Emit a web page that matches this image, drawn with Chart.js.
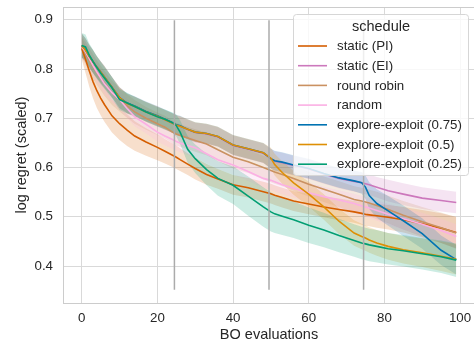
<!DOCTYPE html>
<html>
<head>
<meta charset="utf-8">
<script src="https://cdn.jsdelivr.net/npm/chart.js@4.4.1/dist/chart.umd.min.js"></script>
<style>
  html, body { margin: 0; padding: 0; overflow: hidden; background: #fff; }
  canvas { display: block; }
</style>
</head>
<body>
<canvas id="regretChart" width="476" height="347"></canvas>
<script>
const evals = [0,1,2,3,4,5,6,8,10,12,14,17,20,22,24,25,26,28,30,33,36,40,44,48,50,51,53,56,60,64,68,72,74,75,76,78,81,85,90,95,99];

const schedules = ['static (PI)', 'static (EI)', 'round robin', 'random',
  'explore-exploit (0.75)', 'explore-exploit (0.5)', 'explore-exploit (0.25)'];
const colors = ['#d55e00', '#cc78bc', '#ca9161', '#fbafe4', '#0173b2', '#de8f05', '#029e73'];

// mean log regret per schedule
const staticPI = [0.842,0.820,0.796,0.774,0.756,0.741,0.728,0.705,0.689,0.676,0.664,0.652,0.641,0.633,0.625,0.621,0.616,0.607,0.598,0.586,0.577,0.565,0.559,0.551,0.547,0.544,0.539,0.532,0.526,0.520,0.515,0.510,0.507,0.505,0.504,0.502,0.499,0.494,0.486,0.477,0.468];
const staticEI = [0.848,0.838,0.826,0.815,0.804,0.794,0.784,0.763,0.742,0.730,0.724,0.713,0.704,0.697,0.690,0.686,0.684,0.677,0.671,0.668,0.662,0.645,0.637,0.629,0.618,0.613,0.610,0.604,0.597,0.587,0.578,0.572,0.569,0.567,0.565,0.560,0.553,0.546,0.538,0.533,0.529];
const roundRobin = [0.845,0.832,0.818,0.805,0.793,0.782,0.771,0.752,0.738,0.725,0.713,0.700,0.689,0.682,0.672,0.668,0.665,0.660,0.655,0.648,0.636,0.621,0.612,0.600,0.594,0.591,0.586,0.578,0.566,0.556,0.546,0.535,0.532,0.530,0.528,0.523,0.515,0.503,0.490,0.478,0.467];
const randomSched = [0.846,0.835,0.821,0.807,0.794,0.782,0.770,0.752,0.738,0.720,0.703,0.688,0.672,0.664,0.657,0.653,0.650,0.645,0.640,0.628,0.616,0.605,0.592,0.578,0.574,0.571,0.565,0.558,0.549,0.541,0.534,0.527,0.522,0.520,0.518,0.513,0.505,0.496,0.485,0.472,0.460];
const ee075 = [0.848,0.839,0.826,0.815,0.804,0.794,0.784,0.763,0.742,0.731,0.725,0.714,0.705,0.698,0.691,0.687,0.685,0.678,0.672,0.669,0.663,0.646,0.638,0.630,0.618,0.614,0.611,0.605,0.598,0.588,0.579,0.573,0.569,0.560,0.543,0.527,0.512,0.492,0.466,0.432,0.413];
const ee050 = [0.848,0.838,0.826,0.815,0.804,0.794,0.784,0.763,0.742,0.730,0.724,0.713,0.704,0.697,0.690,0.686,0.684,0.678,0.672,0.669,0.663,0.646,0.638,0.630,0.619,0.606,0.590,0.569,0.546,0.520,0.491,0.467,0.460,0.457,0.453,0.447,0.440,0.433,0.427,0.420,0.414];
const ee025 = [0.848,0.845,0.828,0.815,0.803,0.792,0.782,0.762,0.738,0.731,0.724,0.713,0.703,0.698,0.691,0.685,0.672,0.637,0.618,0.596,0.578,0.564,0.542,0.520,0.510,0.506,0.501,0.494,0.483,0.473,0.462,0.452,0.447,0.445,0.443,0.440,0.435,0.431,0.425,0.419,0.412];

// half width of the 95% band per schedule
const ciPI = [0.022,0.028,0.032,0.034,0.035,0.035,0.035,0.034,0.033,0.032,0.030,0.028,0.026,0.025,0.024,0.024,0.023,0.022,0.022,0.021,0.020,0.020,0.020,0.020,0.020,0.020,0.020,0.020,0.021,0.021,0.022,0.022,0.023,0.023,0.023,0.024,0.025,0.026,0.028,0.030,0.032];
const ciEI = [0.024,0.024,0.023,0.023,0.022,0.022,0.022,0.021,0.021,0.020,0.020,0.020,0.020,0.020,0.020,0.020,0.020,0.020,0.020,0.020,0.020,0.020,0.020,0.020,0.020,0.020,0.020,0.020,0.020,0.020,0.020,0.021,0.021,0.021,0.021,0.021,0.022,0.022,0.022,0.022,0.022];
const ciRR = [0.022,0.023,0.024,0.025,0.025,0.025,0.025,0.025,0.024,0.024,0.024,0.023,0.023,0.023,0.023,0.023,0.023,0.023,0.023,0.023,0.023,0.023,0.023,0.024,0.024,0.024,0.024,0.025,0.025,0.026,0.026,0.027,0.027,0.027,0.027,0.028,0.028,0.029,0.030,0.031,0.032];
const ciRandom = [0.022,0.022,0.022,0.021,0.021,0.021,0.021,0.020,0.020,0.020,0.019,0.019,0.019,0.019,0.019,0.019,0.019,0.019,0.019,0.019,0.019,0.019,0.019,0.019,0.019,0.019,0.019,0.019,0.020,0.020,0.020,0.020,0.020,0.020,0.020,0.021,0.021,0.022,0.023,0.024,0.025];
const ci075 = [0.024,0.024,0.023,0.023,0.022,0.022,0.022,0.021,0.021,0.020,0.020,0.020,0.020,0.020,0.020,0.020,0.020,0.020,0.020,0.020,0.020,0.020,0.020,0.020,0.020,0.020,0.020,0.020,0.020,0.020,0.020,0.021,0.022,0.024,0.027,0.029,0.030,0.031,0.031,0.030,0.030];
const ci050 = [0.024,0.024,0.023,0.023,0.022,0.022,0.022,0.021,0.021,0.020,0.020,0.020,0.020,0.020,0.020,0.020,0.020,0.020,0.020,0.020,0.020,0.020,0.020,0.020,0.021,0.022,0.023,0.024,0.025,0.026,0.026,0.026,0.026,0.026,0.026,0.026,0.027,0.028,0.029,0.030,0.031];
const ci025 = [0.025,0.025,0.024,0.024,0.023,0.023,0.022,0.022,0.021,0.021,0.020,0.020,0.020,0.020,0.021,0.022,0.024,0.027,0.029,0.032,0.035,0.038,0.040,0.040,0.040,0.039,0.038,0.037,0.036,0.035,0.034,0.033,0.033,0.033,0.033,0.033,0.032,0.032,0.032,0.033,0.034];

// schedule switch markers
const switchX = [24.5, 49.5, 74.5];
const switchSpan = [0.352, 0.899];

const xTicks = [0, 20, 40, 60, 80, 100];
const yTicks = [0.4, 0.5, 0.6, 0.7, 0.8, 0.9];

const means = [staticPI, staticEI, roundRobin, randomSched, ee075, ee050, ee025];
const cis = [ciPI, ciEI, ciRR, ciRandom, ci075, ci050, ci025];

const FONT = "'Liberation Sans', Arial, sans-serif";
const TEXT = '#262626';

function alpha(hex, a) {
  const n = parseInt(hex.slice(1), 16);
  return `rgba(${n >> 16},${(n >> 8) & 255},${n & 255},${a})`;
}

const datasets = [];
// bands first (drawn underneath every line)
means.forEach((m, s) => {
  datasets.push({
    data: evals.map((x, i) => ({ x, y: m[i] - cis[s][i] })),
    borderWidth: 0, pointRadius: 0, fill: false, order: 40 - s
  });
  datasets.push({
    data: evals.map((x, i) => ({ x, y: m[i] + cis[s][i] })),
    borderWidth: 0, pointRadius: 0, fill: '-1',
    backgroundColor: alpha(colors[s], 0.2), order: 40 - s
  });
});
// mean lines
means.forEach((m, s) => {
  datasets.push({
    label: schedules[s],
    data: evals.map((x, i) => ({ x, y: m[i] })),
    borderColor: colors[s], borderWidth: 1.6, pointRadius: 0,
    fill: false, tension: 0, order: 10 - s
  });
});
// vertical switch lines
switchX.forEach(v => {
  datasets.push({
    data: switchSpan.map(y => ({ x: v, y })),
    borderColor: '#ababab', borderWidth: 1.5, pointRadius: 0, fill: false, order: 0
  });
});

const frame = {
  id: 'frame',
  afterDraw(chart) {
    const { ctx, chartArea: a } = chart;
    ctx.save();
    ctx.strokeStyle = '#cccccc';
    ctx.lineWidth = 1;
    ctx.beginPath();
    ctx.moveTo(a.left, a.top + 0.5);
    ctx.lineTo(a.right, a.top + 0.5);
    ctx.stroke();
    ctx.restore();
  }
};

const legendBox = {
  id: 'legendBox',
  afterDatasetsDraw(chart) {
    const ctx = chart.ctx;
    ctx.save();
    ctx.beginPath();
    ctx.roundRect(293.5, 14.5, 175, 161, 3);
    ctx.fillStyle = 'rgba(255,255,255,0.8)';
    ctx.fill();
    ctx.strokeStyle = '#d6d6d6';
    ctx.lineWidth = 1;
    ctx.stroke();

    ctx.fillStyle = TEXT;
    ctx.textBaseline = 'middle';
    ctx.textAlign = 'center';
    ctx.font = `14.5px ${FONT}`;
    ctx.fillText('schedule', 381, 26.5);

    ctx.textAlign = 'left';
    ctx.font = `13.3px ${FONT}`;
    schedules.forEach((name, i) => {
      const y = 46 + i * 19.7;
      ctx.strokeStyle = colors[i];
      ctx.lineWidth = 1.6;
      ctx.beginPath();
      ctx.moveTo(298, y);
      ctx.lineTo(327, y);
      ctx.stroke();
      ctx.fillStyle = TEXT;
      ctx.fillText(name, 337, y + 0.5);
    });
    ctx.restore();
  }
};

new Chart(document.getElementById('regretChart'), {
  type: 'line',
  data: { datasets },
  plugins: [frame, legendBox],
  options: {
    responsive: false,
    devicePixelRatio: 1,
    animation: false,
    layout: { padding: { top: 7, right: 1, left: 0, bottom: 0 } },
    plugins: { legend: { display: false }, tooltip: { enabled: false } },
    elements: { line: { borderCapStyle: 'butt' } },
    scales: {
      x: {
        type: 'linear',
        min: -4.95,
        max: 103.95,
        afterBuildTicks: s => { s.ticks = xTicks.map(v => ({ value: v })); },
        afterFit: s => { s.height = 44; s.paddingLeft = 0; s.paddingRight = 0; },
        grid: { color: '#d9d9d9', lineWidth: 1, drawTicks: false },
        border: { color: '#cccccc' },
        ticks: { padding: 7, color: TEXT, font: { family: FONT, size: 13.3 } },
        title: { display: true, text: 'BO evaluations', color: TEXT,
                 font: { family: FONT, size: 14.5 }, padding: { top: 0, bottom: 3 } }
      },
      y: {
        min: 0.325,
        max: 0.926,
        afterBuildTicks: s => { s.ticks = yTicks.map(v => ({ value: v })); },
        afterFit: s => { s.width = 63; s.paddingTop = 0; s.paddingBottom = 0; },
        grid: { color: '#d9d9d9', lineWidth: 1, drawTicks: false },
        border: { color: '#cccccc' },
        ticks: { padding: 10, color: TEXT, font: { family: FONT, size: 13.3 },
                 callback: v => v.toFixed(1) },
        title: { display: true, text: 'log regret (scaled)', color: TEXT,
                 font: { family: FONT, size: 14.5 }, padding: { top: 13, bottom: 0 } }
      }
    }
  }
});
</script>
</body>
</html>
